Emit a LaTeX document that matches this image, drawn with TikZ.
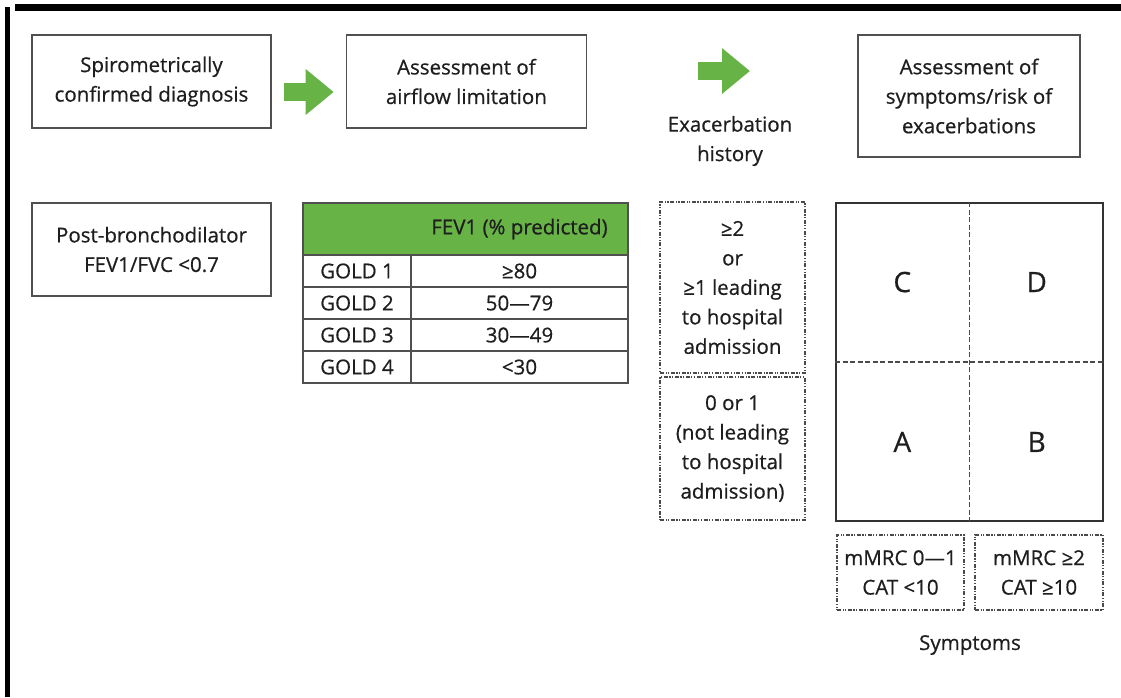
\documentclass[tikz,border=0pt]{standalone}
\usepackage{fontspec}
\setmainfont{Open Sans}[FakeBold=0.6]
\usetikzlibrary{arrows.meta,positioning,calc}
\definecolor{boxc}{HTML}{505050}
\definecolor{txtc}{HTML}{1E1E1E}
\definecolor{goldg}{HTML}{67B346}
\definecolor{gridc}{HTML}{333333}
\definecolor{dashc}{HTML}{4A4A4A}

\begin{document}
\begin{tikzpicture}[
  x=1pt, y=-1pt,
  font=\fontsize{20.5}{29.5}\selectfont,
  every node/.style={text=txtc},
  box/.style={rectangle, draw=boxc, line width=1.4pt, align=center, inner sep=2pt},
  dbox/.style={rectangle, draw=dashc, line width=1.1pt, align=center, inner sep=2pt,
               dash pattern=on 4pt off 1.5pt on 1.2pt off 1.5pt on 1.2pt off 1.5pt},
  cell/.style={rectangle, draw=boxc, line width=1.1pt, minimum height=32pt, inner sep=0pt},
  hcell/.style={rectangle, draw=boxc, fill=goldg, line width=1.1pt, inner sep=0pt,
                minimum width=325pt, minimum height=52pt},
  grp/.style={font=\fontsize{28}{30}\selectfont},
  gline/.style={draw=dashc, line width=1.5pt, dash pattern=on 5pt off 2.5pt},
  garrow/.style={draw=goldg, line width=18pt,
                 -{Triangle[length=28pt, width=44pt]}},
]
\useasboundingbox (0,0) rectangle (1121,697);

% ---- frame edges of the cut-out ----
\fill[black] (5,7) rectangle (10,697);
\fill[black] (15,4) rectangle (1121,11);

% ---- top row: steps ----
\node[box, minimum width=239pt, minimum height=93pt] (spiro) at (151.5,81.5)
  {Spirometrically\\confirmed diagnosis};
\node[box, minimum width=240pt, minimum height=93pt, right=74pt of spiro] (airflow)
  {Assessment of\\airflow limitation};
\node[align=center] (exhist) at (730,141) {Exacerbation\\history};
\node[box, minimum width=222pt, minimum height=122pt] (symrisk) at (969,96)
  {Assessment of\\symptoms/risk of\\exacerbations};

% ---- green step arrows ----
\coordinate (a2s) at (698,71);
\coordinate (a2e) at (750,71);
\draw[garrow] ([xshift=12pt,yshift=-10.5pt]spiro.east) -- ([xshift=-12pt,yshift=-10.5pt]airflow.west);
\draw[garrow] (a2s) -- (a2e);

% ---- second row: criteria ----
\node[box, minimum width=239pt, minimum height=93pt] (postbd) at (151.5,249.5)
  {Post-bronchodilator\\FEV1/FVC <0.7};

% ---- GOLD grades table ----
\node[hcell] (head) at (465.5,229) {};
\node (headtxt) at (519.5,229) {FEV1 (\% predicted)};
\foreach \g/\v [count=\i] in {1/≥80, 2/50—79, 3/30—49, 4/<30} {
  \node[cell, minimum width=108pt] (gold\i) at (357,{255+32*\i-16}) {GOLD \g};
  \node[cell, minimum width=217pt] (fev\i) at (519.5,{255+32*\i-16}) {\v};
}

% ---- exacerbation history ----
\node[dbox, minimum width=145pt, minimum height=171pt] (exhi) at (732.5,287.5)
  {≥2\\or\\≥1 leading\\to hospital\\admission};
\node[dbox, minimum width=145pt, minimum height=143pt] (exlo) at (732.5,448.5)
  {0 or 1\\(not leading\\to hospital\\admission)};

% ---- ABCD grid ----
\node[rectangle, draw=gridc, line width=1.8pt, minimum width=267pt, minimum height=318pt,
      inner sep=0pt] (grid) at (969.5,362) {};
\draw[gline] (grid.north) -- (grid.south);
\draw[gline] (grid.west) -- (grid.east);
\node[grp] (grpC) at ($(grid.north west)!0.5!(grid.center)$) {C};
\node[grp] (grpD) at ($(grid.north east)!0.5!(grid.center)$) {D};
\node[grp] (grpA) at ($(grid.south west)!0.5!(grid.center)$) {A};
\node[grp] (grpB) at ($(grid.south east)!0.5!(grid.center)$) {B};

% ---- symptom thresholds ----
\node[dbox, minimum width=127pt, minimum height=75pt] (symlo) at (900.5,572.5)
  {mMRC 0—1\\CAT <10};
\node[dbox, minimum width=128pt, minimum height=75pt] (symhi) at (1039,572.5)
  {mMRC ≥2\\CAT ≥10};
\node (symlab) at (970,645) {Symptoms};
\end{tikzpicture}
\end{document}
